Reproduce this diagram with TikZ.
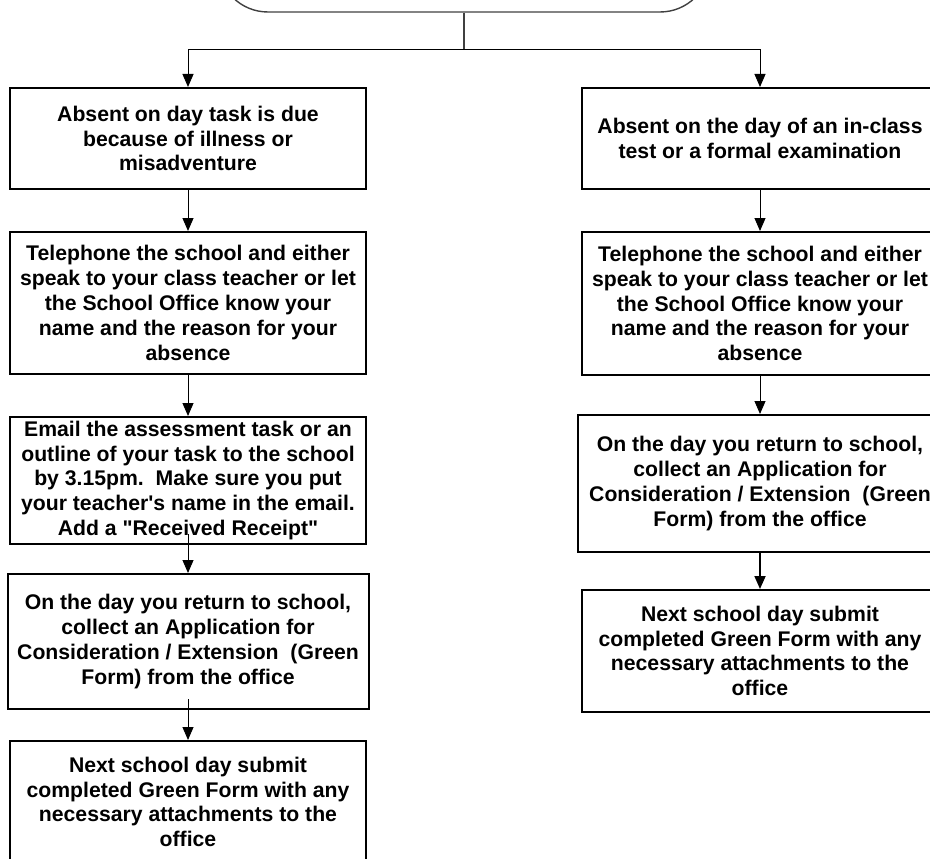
\documentclass[tikz,border=0pt]{standalone}
\usepackage{fontspec}
\setmainfont{Liberation Sans}[Ligatures=TeXOff]
\usetikzlibrary{arrows.meta}

\begin{document}
\begin{tikzpicture}[x=1pt, y=-1pt,
		stepbox/.style={draw, line width=2pt, align=center, minimum width=356pt, inner sep=3pt,
			font=\bfseries\fontsize{21.2}{24.8}\selectfont},
		link/.style={-{Triangle[length=13pt,width=11pt]}, line width=1pt}]
		\useasboundingbox (0,0) rectangle (930,859);

		\node[draw=black!75, line width=1.4pt, rounded corners=50pt, minimum width=492pt, minimum height=150pt] (start) at (464,-63) {};
		\coordinate (fork) at (464,50);

		\node[stepbox, minimum height=101pt] (l1) at (188,138.5) {Absent on day task is due\\because of illness or\\misadventure};
		\node[stepbox, minimum height=142pt] (l2) at (188,303) {Telephone the school and either\\speak to your class teacher or let\\the School Office know your\\name and the reason for your\\absence};
		\node[stepbox, minimum height=127pt] (l3) at (188,480.5) {Email the assessment task or an\\outline of your task to the school\\by 3.15pm.\ \ Make sure you put\\your teacher's name in the email.\\Add a "Received Receipt"};
		\node[stepbox, minimum height=135pt, minimum width=361pt] (l4) at (188,641.5) {On the day you return to school,\\collect an Application for\\Consideration / Extension\ \ (Green\\Form) from the office};
		\node[stepbox, minimum height=122pt] (l5) at (188,802) {Next school day submit\\completed Green Form with any\\necessary attachments to the\\office};

		\node[stepbox, minimum height=101pt] (r1) at (760,138.5) {Absent on the day of an in-class\\test or a formal examination};
		\node[stepbox, minimum height=143pt] (r2) at (760,303.5) {Telephone the school and either\\speak to your class teacher or let\\the School Office know your\\name and the reason for your\\absence};
		\node[stepbox, minimum height=137pt, minimum width=364pt] (r3) at (760,483.5) {On the day you return to school,\\collect an Application for\\Consideration / Extension\ \ (Green\\Form) from the office};
		\node[stepbox, minimum height=122pt] (r4) at (760,651) {Next school day submit\\completed Green Form with any\\necessary attachments to the\\office};

		\draw[draw=black!75, line width=1.4pt] (start.south) -- (fork);
		\draw[link] (fork) -| (l1.north);
		\draw[link] (fork) -| (r1.north);

		\draw[link] (l1.south) -- (l2.north);
		\draw[link] (l2.south) -- (l3.north);
		\draw[link] ([yshift=11pt]l3.south) -- (l4.north);
		\draw[link] ([yshift=11pt]l4.south) -- (l5.north);

		\draw[link] (r1.south) -- (r2.north);
		\draw[link] (r2.south) -- (r3.north);
		\draw[link, line width=1.8pt] (r3.south) -- (r4.north);
	\end{tikzpicture}
\end{document}
